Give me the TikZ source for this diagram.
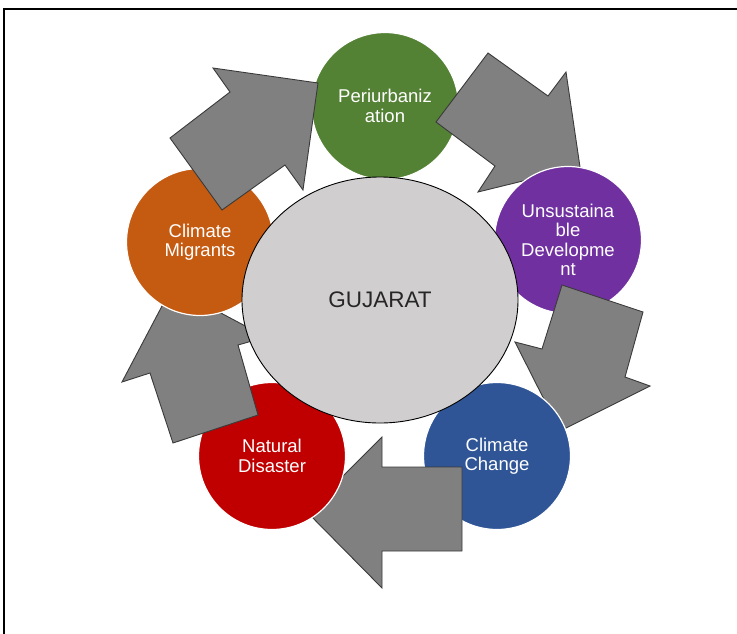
\documentclass[tikz,border=0pt]{standalone}
\usepackage{fontspec}
\setmainfont{Liberation Sans}
\usetikzlibrary{shapes.geometric}
\definecolor{periurban}{HTML}{548235}
\definecolor{unsust}{HTML}{7030A0}
\definecolor{climchange}{HTML}{2F5597}
\definecolor{disaster}{HTML}{C00000}
\definecolor{migrants}{HTML}{C55A11}
\definecolor{hubfill}{HTML}{D0CECE}
\definecolor{hubtext}{HTML}{262626}
\definecolor{arrowgray}{HTML}{808080}
\definecolor{arrowedge}{HTML}{3A3A3A}
\begin{document}
\begin{tikzpicture}[x=1pt,y=-1pt,
  stage/.style={circle, minimum size=147pt, inner sep=0pt, draw=white,
    line width=1.2pt, text=white, align=center,
    font=\fontsize{18.5}{19.5}\selectfont},
  flow/.style={fill=arrowgray, draw=arrowedge, line width=0.9pt, line join=miter},
  hub/.style={ellipse, minimum width=276pt, minimum height=246pt, inner sep=0pt,
    fill=hubfill, draw=black, line width=0.9pt, text=hubtext,
    font=\fontsize{22.5}{26}\selectfont}]
\useasboundingbox (0,0) rectangle (737,633);
% outer frame
\draw[line width=2pt] (4,640) -- (4,9) -- (745,9);

% cycle stages and the block arrows between them
\node[stage, fill=periurban] (peri) at (385,106) {Periurbaniz\\ation};
\draw[flow] (488,53) -- (548,96) -- (566,72) -- (580,167) -- (478,192)
  -- (495,166) -- (436,122) -- cycle;
\node[stage, fill=unsust] (unsus) at (568,240) {Unsustaina\\ble\\Developme\\nt};
\draw[flow] (562,285) -- (643,312) -- (625,377) -- (650,386) -- (560,431)
  -- (515,342) -- (542,349) -- cycle;
\node[stage, fill=climchange] (change) at (497,456) {Climate\\Change};
\draw[flow] (462,467) -- (462,551) -- (382,551) -- (382,588) -- (307,512)
  -- (382,437) -- (382,467) -- cycle;
\node[stage, fill=disaster] (disas) at (272,456) {Natural\\Disaster};
\draw[flow] (122,382) -- (150,373) -- (173,443) -- (258,415) -- (238,345)
  -- (266,337) -- (172,287) -- cycle;
\node[stage, fill=migrants] (migr) at (200,242) {Climate\\Migrants};
\draw[flow] (213,68) -- (318,83) -- (303,190) -- (285,165) -- (222,210)
  -- (170,138) -- (230,92) -- cycle;

% centre
\node[hub] (guj) at (380,300) {GUJARAT};
\end{tikzpicture}
\end{document}
